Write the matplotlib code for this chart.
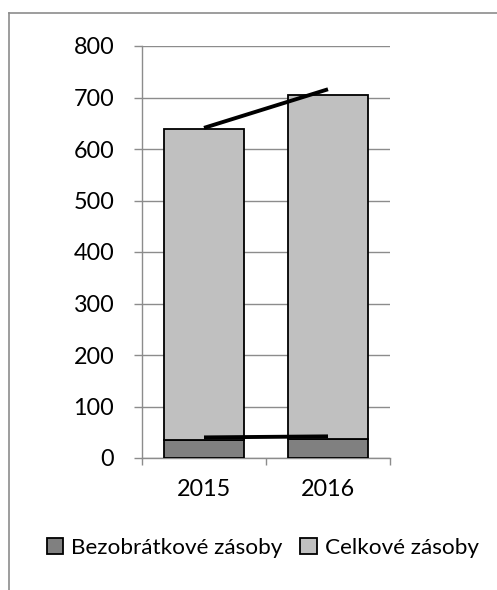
import numpy as np
import matplotlib.pyplot as plt
from matplotlib.lines import Line2D

# -------------------- Data --------------------
years = ['2015', '2016']
bezobratkove = [35, 37]          # dark bottom segment
celkove = [604, 668]             # light segment stacked on top
trend_top = [641, 716]           # line over totals
trend_bottom = [40, 42]          # line over bezobrátkové zásoby
yticks = [0, 100, 200, 300, 400, 500, 600, 700, 800]

plt.rcParams['font.family'] = ['Lato', 'DejaVu Sans']

W, H = 497, 590
fs = 16.8
fig = plt.figure(figsize=(W / 100, H / 100), dpi=100)
ax = fig.add_axes([142 / W, 1 - 458 / H, (390 - 142) / W, (458 - 46) / H])

x = np.arange(len(years))
dark = '#808080'
light = '#c0c0c0'
axis_grey = '#8c8c8c'

ax.bar(x, bezobratkove, width=0.65, color=dark, edgecolor='black',
       linewidth=1.3, label='Bezobrátkové zásoby', zorder=3)
ax.bar(x, celkove, width=0.65, bottom=bezobratkove, color=light,
       edgecolor='black', linewidth=1.3, label='Celkové zásoby', zorder=3)

ax.plot(x, trend_top, color='black', linewidth=2.8, zorder=4,
        solid_capstyle='butt')
ax.plot(x, trend_bottom, color='black', linewidth=2.8, zorder=4,
        solid_capstyle='butt')

ax.set_xlim(-0.5, 1.5)
ax.set_ylim(0, 800)
ax.set_yticks(yticks)
ax.yaxis.grid(True, color=axis_grey, linewidth=1.0, zorder=0)
ax.set_axisbelow(True)

# category ticks sit between the bars
ax.set_xticks([-0.5, 0.5, 1.5])
ax.set_xticklabels([])
ax.set_xticks(x, minor=True)
ax.set_xticklabels(years, minor=True)
ax.tick_params(axis='x', which='major', length=5, width=1.0, color=axis_grey,
               direction='out')
ax.tick_params(axis='x', which='minor', length=0, pad=15, labelsize=fs)
ax.tick_params(axis='y', length=6, width=1.0, color=axis_grey, pad=14,
               labelsize=fs)

for side in ['top', 'right']:
    ax.spines[side].set_visible(False)
for side in ['left', 'bottom']:
    ax.spines[side].set_color(axis_grey)
    ax.spines[side].set_linewidth(1.0)

fig.legend(loc='center left', bbox_to_anchor=(47 / W, 1 - 548 / H), ncol=2,
           frameon=False, fontsize=16.2, handlelength=0.72, handleheight=0.72,
           handletextpad=0.35, columnspacing=0.8, borderaxespad=0,
           borderpad=0)

# chart area border (left and top edges)
fig.add_artist(Line2D([9 / W, 9 / W], [0, 1 - 13 / H], color='#8c8c8c',
                      linewidth=1.2, transform=fig.transFigure))
fig.add_artist(Line2D([9 / W, 1], [1 - 13 / H, 1 - 13 / H], color='#8c8c8c',
                      linewidth=1.2, transform=fig.transFigure))

fig.savefig('out.png', dpi=100)
